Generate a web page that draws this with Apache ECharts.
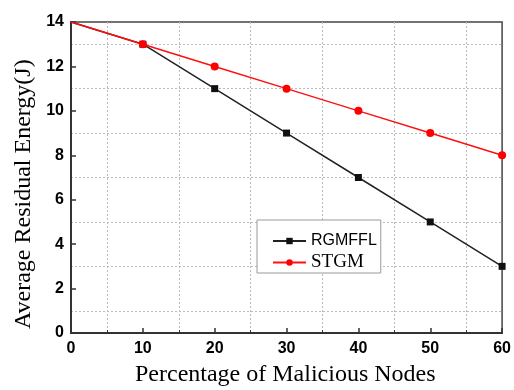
<!DOCTYPE html>
<html><head><meta charset="utf-8">
<script src="https://cdn.jsdelivr.net/npm/echarts@6/dist/echarts.min.js"></script>
<style>html,body{margin:0;padding:0;background:#fff}#c{width:514px;height:390px}</style>
</head><body><div id="c"></div>
<script>
const xValues = [0, 10, 20, 30, 40, 50, 60];
const rgmffl = [14, 13, 11, 9, 7, 5, 3];
const stgm = [14, 13, 12, 11, 10, 9, 8];
const seriesNames = ['RGMFFL', 'STGM'];
const xTitle = 'Percentage of Malicious Nodes';
const yTitle = 'Average Residual Energy(J)';

function pts(vals) {
  return vals.map((v, i) => i === 0 ? {value: [xValues[i], v], symbol: 'none'} : [xValues[i], v]);
}
const chart = echarts.init(document.getElementById('c'));
const axisLabel = {fontFamily: 'Liberation Sans', fontWeight: 'bold', fontSize: 16, color: '#000'};
chart.setOption({
  animation: false,
  grid: {left: 71, right: 7, top: 22, bottom: 57, show: true, borderColor: '#444', borderWidth: 1.5},
  xAxis: {
    type: 'value', min: 0, max: 60, interval: 10,
    axisLine: {show: true, lineStyle: {color: '#333', width: 2}},
    axisTick: {inside: true, length: 5, lineStyle: {color: '#333', width: 1.5}},
    minorTick: {show: true, splitNumber: 2, length: 3, lineStyle: {color: '#333', width: 1}},
    splitLine: {show: false},
    minorSplitLine: {show: true, lineStyle: {color: '#bbb', type: [2, 2], width: 1}},
    axisLabel: Object.assign({margin: 8}, axisLabel)
  },
  yAxis: {
    type: 'value', min: 0, max: 14, interval: 2,
    axisLine: {show: true, lineStyle: {color: '#333', width: 2}},
    axisTick: {inside: true, length: 5, lineStyle: {color: '#333', width: 1.5}},
    minorTick: {show: false, splitNumber: 2},
    splitLine: {show: false},
    minorSplitLine: {show: true, lineStyle: {color: '#bbb', type: [2, 2], width: 1}},
    axisLabel: Object.assign({margin: 7}, axisLabel)
  },
  legend: {
    orient: 'vertical', left: 257, top: 220,
    backgroundColor: '#fff', borderColor: '#999', borderWidth: 1,
    padding: [13, 4, 1, 15], itemGap: 4, itemWidth: 33, itemHeight: 8,
    data: seriesNames,
    formatter: function (n) { return n === 'STGM' ? '{s|' + n + '}' : '{a|' + n + '}'; },
    textStyle: {
      rich: {
        a: {fontFamily: 'Liberation Sans', fontSize: 16, color: '#000', height: 16},
        s: {fontFamily: 'Liberation Serif', fontSize: 19, color: '#000', height: 16}
      }
    }
  },
  graphic: [
    {type: 'text', left: 135, top: 363, style: {text: xTitle, font: '24px "Liberation Serif"', fill: '#000'}},
    {type: 'text', rotation: Math.PI / 2, x: 12, y: 329, style: {text: yTitle, font: '24px "Liberation Serif"', fill: '#000', textAlign: 'left', textVerticalAlign: 'top'}}
  ],
  series: [
    {name: seriesNames[0], type: 'line', data: pts(rgmffl), symbol: 'rect', symbolSize: 7,
     lineStyle: {color: '#222', width: 1.5}, itemStyle: {color: '#111'}, z: 2},
    {name: seriesNames[1], type: 'line', data: pts(stgm), symbol: 'circle', symbolSize: 8,
     lineStyle: {color: '#ff1010', width: 1.5}, itemStyle: {color: '#ff0000'}, z: 3}
  ]
});
</script></body></html>
